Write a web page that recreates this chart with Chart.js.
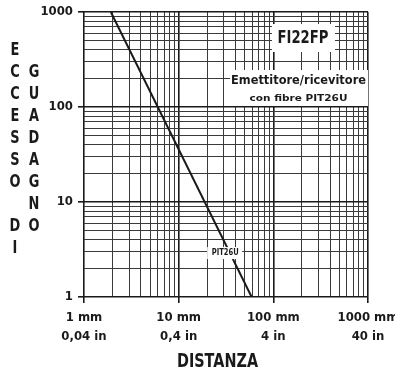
<!DOCTYPE html>
<html>
<head>
<meta charset="utf-8">
<script src="https://cdn.jsdelivr.net/npm/chart.js@4"></script>
<style>
body{margin:0;background:#fff;}
canvas{display:block;}
</style>
</head>
<body>
<canvas id="chart" width="395" height="376"></canvas>
<script>
// distance in mm vs excess gain
const distanza = [1.92, 59];
const eccesso = [1000, 1];

const xMajor = [1, 10, 100, 1000];
const xLabels = [["1 mm", "0,04 in"], ["10 mm", "0,4 in"], ["100 mm", "4 in"], ["1000 mm", "40 in"]];
const yMajor = [1, 10, 100, 1000];
const yLabels = ["1", "10", "100", "1000"];

const titolo = "FI22FP";
const sottotitolo = ["Emettitore/ricevitore", "con fibre PIT26U"];
const curva = "PIT26U";
const yTitolo1 = "ECCESSO DI";
const yTitolo2 = " GUADAGNO";

const FONT = "'Liberation Sans Narrow','DejaVu Sans Condensed','Arial Narrow',sans-serif";
const PFONT = "'DejaVu Sans',sans-serif";
const INK = "#1a1a1a";
const MINOR = "#3a3a3a";

function logTicks(min, max) {
  const t = [];
  for (let d = min; d < max; d *= 10) {
    for (let k = 1; k < 10; k++) t.push(+(d * k).toPrecision(3));
  }
  t.push(max);
  return t;
}

// condensed look: squeeze text to a given width (or by a fixed factor)
function narrow(ctx, txt, x, y, size, w, sx) {
  ctx.save();
  ctx.font = "bold " + size + "px " + PFONT;
  const k = w ? w / ctx.measureText(txt).width : sx;
  ctx.translate(x, y);
  ctx.scale(k, 1);
  ctx.fillText(txt, 0, 0);
  ctx.restore();
}

const boxes = {
  id: "boxes",
  afterDatasetsDraw(chart) {
    const ctx = chart.ctx;
    const x = chart.scales.x, y = chart.scales.y;
    ctx.save();
    ctx.fillStyle = "#fff";
    ctx.fillRect(272, 24, 63, 28);
    ctx.fillRect(230, 70, x.right - 230, 36);
    const lx = x.getPixelForValue(31), ly = y.getPixelForValue(2.9);
    ctx.fillRect(lx - 18, ly - 6, 35, 12);

    ctx.fillStyle = INK;
    ctx.textAlign = "center";
    ctx.textBaseline = "middle";
    narrow(ctx, titolo, 303, 38.5, 17, 51);
    narrow(ctx, sottotitolo[0], 298.5, 81, 13, 135);
    narrow(ctx, sottotitolo[1], 298.5, 99, 9.5, 98);
    narrow(ctx, curva, lx, ly, 9, 27);

    // y title, two columns of stacked letters
    const top = 50, step = 22;
    [...yTitolo1].forEach((c, i) => { if (c !== " ") narrow(ctx, c, 15, top + i * step, 18, 0, 0.72); });
    [...yTitolo2].forEach((c, i) => { if (c !== " ") narrow(ctx, c, 34, top + i * step, 18, 0, 0.72); });
    narrow(ctx, "DISTANZA", 217.5, 362, 20, 81);
    ctx.restore();
  }
};

new Chart(document.getElementById("chart"), {
  type: "line",
  data: {
    datasets: [{
      label: curva,
      data: distanza.map((d, i) => ({ x: d, y: eccesso[i] })),
      borderColor: INK,
      borderWidth: 2,
      pointRadius: 0,
      fill: false
    }]
  },
  options: {
    responsive: false,
    animation: false,
    layout: { padding: { top: 12, right: 27, left: 0, bottom: 0 } },
    plugins: { legend: { display: false }, tooltip: { enabled: false } },
    scales: {
      x: {
        type: "logarithmic",
        min: 1, max: 1000,
        afterBuildTicks: s => { s.ticks = logTicks(1, 1000).map(v => ({ value: v })); },
        afterFit: s => { s.height = 79; s.paddingLeft = 0; s.paddingRight = 0; },
        border: { display: false },
        grid: {
          color: c => (c.tick && xMajor.includes(c.tick.value)) ? INK : MINOR,
          lineWidth: c => (c.tick && xMajor.includes(c.tick.value)) ? 1.6 : 1,
          tickLength: 6,
          tickColor: c => (c.tick && xMajor.includes(c.tick.value)) ? INK : "rgba(0,0,0,0)"
        },
        ticks: {
          autoSkip: false, maxRotation: 0, padding: 6,
          color: INK,
          font: { family: FONT, size: 13, weight: "bold", lineHeight: 1.4 },
          callback: v => { const i = xMajor.indexOf(v); return i >= 0 ? xLabels[i] : ""; }
        }
      },
      y: {
        type: "logarithmic",
        min: 1, max: 1000,
        afterBuildTicks: s => { s.ticks = logTicks(1, 1000).map(v => ({ value: v })); },
        afterFit: s => { s.width = 84; s.paddingTop = 0; s.paddingBottom = 0; },
        border: { display: false },
        grid: {
          color: c => (c.tick && yMajor.includes(c.tick.value)) ? INK : MINOR,
          lineWidth: c => (c.tick && yMajor.includes(c.tick.value)) ? 1.6 : 1,
          tickLength: 6,
          tickColor: c => (c.tick && yMajor.includes(c.tick.value)) ? INK : "rgba(0,0,0,0)"
        },
        ticks: {
          autoSkip: false, padding: 5,
          color: INK,
          font: { family: FONT, size: 13, weight: "bold" },
          callback: v => { const i = yMajor.indexOf(v); return i >= 0 ? yLabels[i] : ""; }
        }
      }
    }
  },
  plugins: [boxes]
});
</script>
</body>
</html>
